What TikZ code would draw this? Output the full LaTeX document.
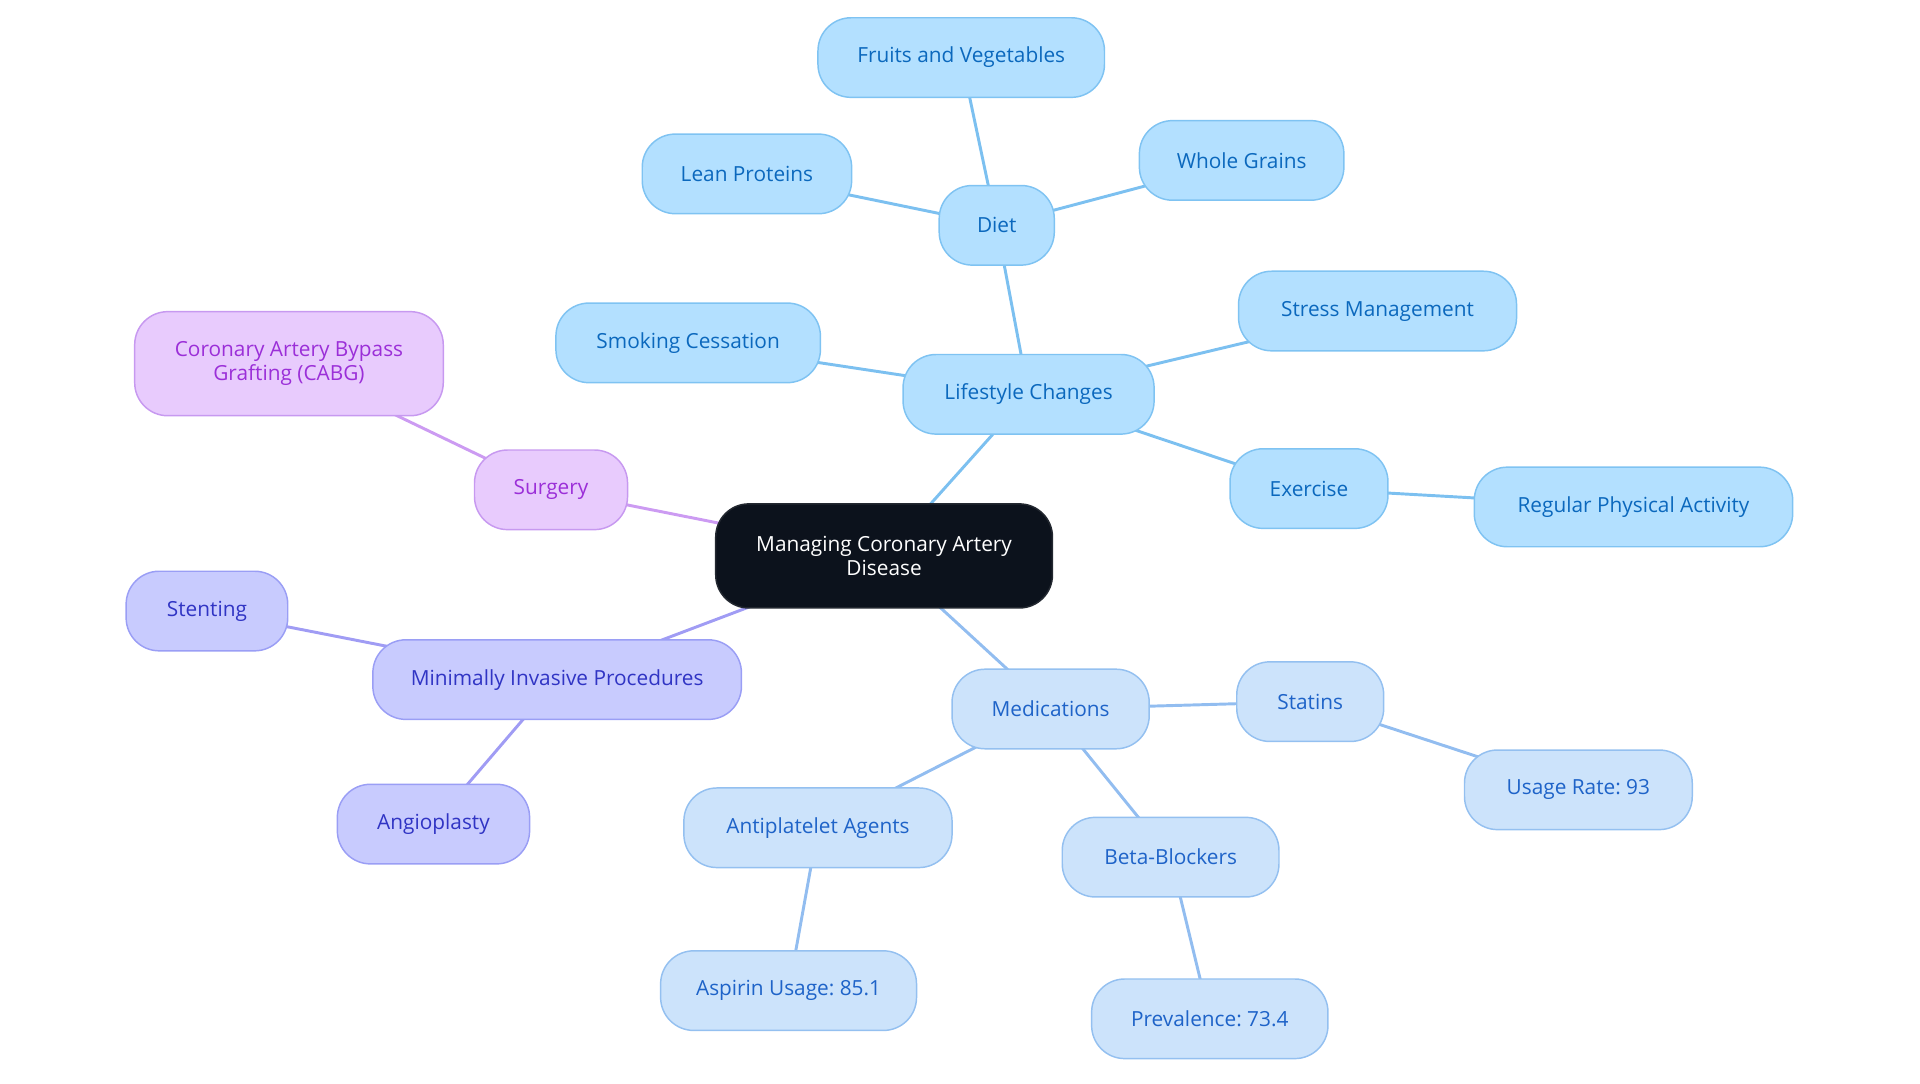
\documentclass[tikz,border=0pt]{standalone}
\usepackage{fontspec}
\setmainfont{Open Sans}
\begin{document}
\frenchspacing
\begin{tikzpicture}[x=1pt,y=-1pt,
  base/.style={rounded corners=27pt, line width=1.2pt, inner sep=0pt, minimum height=65pt, align=center,
    font=\fontsize{17}{19.5}\selectfont},
  lsnode/.style={base, fill=lsfill, draw=lsdraw, text=lstext},
  mdnode/.style={base, fill=mdfill, draw=mddraw, text=mdtext},
  minode/.style={base, fill=mifill, draw=midraw, text=mitext},
  sgnode/.style={base, fill=sgfill, draw=sgdraw, text=sgtext},
  rootnode/.style={base, fill=rootfill, draw=rootfill!80!gray, text=white},
  lsedge/.style={draw=lsedgec, line width=2.4pt},
  mdedge/.style={draw=mdedgec, line width=2.4pt},
  miedge/.style={draw=miedgec, line width=2.4pt},
  sgedge/.style={draw=sgedgec, line width=2.4pt}]
\definecolor{lsfill}{HTML}{B3E0FF}
\definecolor{lsdraw}{HTML}{7FC3F2}
\definecolor{lstext}{HTML}{0B68BD}
\definecolor{lsedgec}{HTML}{7CC0F0}
\definecolor{mdfill}{HTML}{CCE3FB}
\definecolor{mddraw}{HTML}{94C0F0}
\definecolor{mdtext}{HTML}{1E63C8}
\definecolor{mdedgec}{HTML}{92BDF0}
\definecolor{mifill}{HTML}{C8CBFE}
\definecolor{midraw}{HTML}{9A9EF5}
\definecolor{mitext}{HTML}{3034C4}
\definecolor{miedgec}{HTML}{A09CF4}
\definecolor{sgfill}{HTML}{E8CBFD}
\definecolor{sgdraw}{HTML}{C799F0}
\definecolor{sgtext}{HTML}{9B2FD8}
\definecolor{sgedgec}{HTML}{CC9BF2}
\definecolor{rootfill}{HTML}{0C121C}
\useasboundingbox (0,0) rectangle (1568,884.5);

% nodes
\node[rootnode, minimum width=275pt, minimum height=85pt] (root) at (722,454) {Managing Coronary Artery\\Disease};
\node[lsnode, minimum width=205pt] (ls) at (840,322) {Lifestyle Changes};
\node[lsnode, minimum width=94pt] (diet) at (814,184) {Diet};
\node[lsnode, minimum width=234pt] (fv) at (785,47) {Fruits and Vegetables};
\node[lsnode, minimum width=171pt] (lp) at (610,142) {Lean Proteins};
\node[lsnode, minimum width=167pt] (wg) at (1014,131) {Whole Grains};
\node[lsnode, minimum width=216pt] (sc) at (562,280) {Smoking Cessation};
\node[lsnode, minimum width=227pt] (sm) at (1125,254) {Stress Management};
\node[lsnode, minimum width=129pt] (ex) at (1069,399) {Exercise};
\node[lsnode, minimum width=260pt] (rpa) at (1334,414) {Regular Physical Activity};
\node[sgnode, minimum width=125pt] (sg) at (450,400) {Surgery};
\node[sgnode, minimum width=252pt, minimum height=85pt] (cabg) at (236,297) {Coronary Artery Bypass\\Grafting (CABG)};
\node[minode, minimum width=301pt] (mip) at (455,555) {Minimally Invasive Procedures};
\node[minode, minimum width=132pt] (st) at (169,499) {Stenting};
\node[minode, minimum width=157pt] (ag) at (354,673) {Angioplasty};
\node[mdnode, minimum width=161pt] (med) at (858,579) {Medications};
\node[mdnode, minimum width=120pt] (sta) at (1070,573) {Statins};
\node[mdnode, minimum width=186pt] (ur) at (1289,645) {Usage Rate: 93};
\node[mdnode, minimum width=219pt] (apa) at (668,676) {Antiplatelet Agents};
\node[mdnode, minimum width=209pt] (asp) at (644,809) {Aspirin Usage: 85.1};
\node[mdnode, minimum width=177pt] (bb) at (956,700) {Beta-Blockers};
\node[mdnode, minimum width=193pt] (prev) at (988,832) {Prevalence: 73.4};

% edges (behind nodes)
\pgfdeclarelayer{bg}
\pgfsetlayers{bg,main}
\begin{pgfonlayer}{bg}
\draw[lsedge] (root.center) -- (ls.center);
\draw[lsedge] (ls.center) -- (diet.center);
\draw[lsedge] (diet.center) -- (fv.center);
\draw[lsedge] (diet.center) -- (lp.center);
\draw[lsedge] (diet.center) -- (wg.center);
\draw[lsedge] (ls.center) -- (sc.center);
\draw[lsedge] (ls.center) -- (sm.center);
\draw[lsedge] (ls.center) -- (ex.center);
\draw[lsedge] (ex.center) -- (rpa.center);
\draw[sgedge] (root.center) -- (sg.center);
\draw[sgedge] (sg.center) -- (cabg.center);
\draw[miedge] (root.center) -- (mip.center);
\draw[miedge] (mip.center) -- (st.center);
\draw[miedge] (mip.center) -- (ag.center);
\draw[mdedge] (root.center) -- (med.center);
\draw[mdedge] (med.center) -- (sta.center);
\draw[mdedge] (sta.center) -- (ur.center);
\draw[mdedge] (med.center) -- (apa.center);
\draw[mdedge] (apa.center) -- (asp.center);
\draw[mdedge] (med.center) -- (bb.center);
\draw[mdedge] (bb.center) -- (prev.center);
\end{pgfonlayer}
\end{tikzpicture}
\end{document}
